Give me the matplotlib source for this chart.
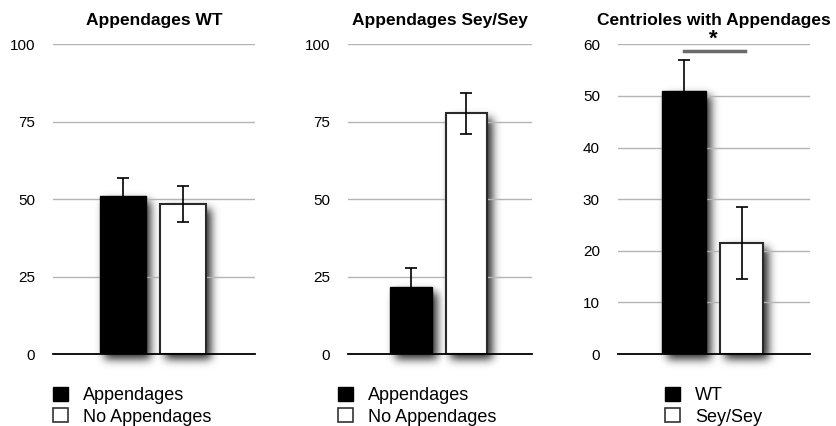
import math
import numpy as np
import matplotlib
matplotlib.use("Agg")
import matplotlib.pyplot as plt
from matplotlib.patches import Patch

plt.rcParams['font.family'] = ['Liberation Sans', 'DejaVu Sans']

# data
wt_labels = ["Appendages", "No Appendages"]
wt_values = [51, 48.5]
wt_err = [5.8, 5.8]

sey_labels = ["Appendages", "No Appendages"]
sey_values = [21.5, 77.7]
sey_err = [6.4, 6.6]

cent_labels = ["WT", "Sey/Sey"]
cent_values = [51.0, 21.5]
cent_err = [6.0, 7.0]

W, H = 836, 426
fig = plt.figure(figsize=(W / 100, H / 100), dpi=100, facecolor='white')

# background axes that holds the soft drop shadows of the bars
bg = fig.add_axes([0, 0, 1, 1], zorder=0)
bg.set_xlim(0, W)
bg.set_ylim(0, H)
bg.axis('off')

panels = [
    # title, values, errors, labels, ymax, yticks, (left, right px), legend x px
    ("Appendages WT", wt_values, wt_err, wt_labels, 100, [0, 25, 50, 75, 100], (53, 255), 53),
    ("Appendages Sey/Sey", sey_values, sey_err, sey_labels, 100, [0, 25, 50, 75, 100], (348, 532), 338),
    ("Centrioles with Appendages", cent_values, cent_err, cent_labels, 60, [0, 10, 20, 30, 40, 50, 60], (618, 810), 665),
]
top_px, bot_px = 44.3, 354
width = 0.76

axes = []
for title, vals, errs, labels, ymax, yticks, (l, r), leg_x in panels:
    ax = fig.add_axes([l / W, 1 - bot_px / H, (r - l) / W, (bot_px - top_px) / H], zorder=1)
    ax.patch.set_visible(False)
    x = np.arange(len(vals))
    ax.set_xlim(-1.15, 2.19)
    ax.set_ylim(0, ymax)
    ax.set_yticks(yticks)
    ax.yaxis.grid(True, color='#b4b4b4', lw=1.0)
    ax.set_axisbelow(True)
    for s in ['top', 'right', 'left']:
        ax.spines[s].set_visible(False)
    ax.spines['bottom'].set_linewidth(1.3)
    ax.spines['bottom'].set_zorder(5)
    ax.set_xticks([])
    ax.tick_params(axis='y', length=0, pad=13, labelsize=11)
    ax.bar(x[0], vals[0], width, color='black', edgecolor='black', lw=1, zorder=3)
    ax.bar(x[1], vals[1], width, color='white', edgecolor='#2a2a2a', lw=1.5, zorder=3)
    ax.errorbar(x, vals, yerr=errs, fmt='none', ecolor='black', elinewidth=1.2,
                capsize=4, capthick=1.2, zorder=4)
    ax.set_title(title, fontsize=12.5, fontweight='bold', pad=14)
    ax.legend(handles=[Patch(facecolor='black', edgecolor='black'),
                       Patch(facecolor='white', edgecolor='#333333', lw=1.2)],
              labels=labels, loc='upper left',
              bbox_to_anchor=(leg_x / W, 1 - 387 / H), bbox_transform=fig.transFigure,
              frameon=False, borderpad=0, borderaxespad=0, fontsize=13,
              handlelength=0.85, handleheight=0.85, handletextpad=0.8,
              labelspacing=0.2)
    axes.append((ax, x, vals))

# significance marker on the last panel
ax3 = axes[2][0]
ax3.plot([0.0, 1.06], [58.7, 58.7], color='#6a6a6a', lw=2.5, clip_on=False, zorder=4)
ax3.text(0.5, 61.0, '*', ha='center', va='center', fontsize=16, fontweight='bold',
         clip_on=False)

# drop shadows: gaussian-blurred rectangles offset down and right
def phi(v):
    return 0.5 * (1 + np.vectorize(math.erf)(v / math.sqrt(2)))

xs = np.arange(W) + 0.5
ys = np.arange(H) + 0.5
shadow = np.zeros((H, W))
sig, dx, dy = 4.5, 5, 5
for ax, x, vals in axes:
    for xi, v in zip(x, vals):
        (x0, y0), (x1, y1) = ax.transData.transform([(xi - width / 2, 0), (xi + width / 2, v)])
        # to top-down pixel rows
        r0, r1 = H - y1, H - y0
        px = phi((xs - (x0 + dx)) / sig) - phi((xs - (x1 + dx)) / sig)
        py = phi((ys - (r0 + dy)) / sig) - phi((ys - (r1 + dy)) / sig)
        shadow = np.maximum(shadow, np.outer(py, px))
rgba = np.zeros((H, W, 4))
rgba[..., 3] = shadow * 0.85
bg.imshow(rgba, extent=[0, W, 0, H], origin='upper', interpolation='bilinear')

fig.savefig('out.png', dpi=100, facecolor='white')
